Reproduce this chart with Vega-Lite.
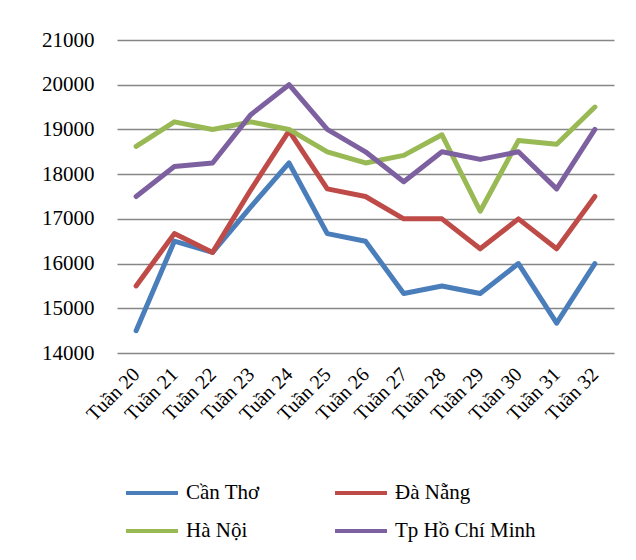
{
  "$schema": "https://vega.github.io/schema/vega-lite/v6.json",
  "width": 497,
  "height": 313,
  "autosize": {"type": "none"},
  "padding": {"left": 117, "top": 40, "right": 22, "bottom": 207},
  "background": "white",
  "config": {
    "view": {"stroke": null},
    "font": "Liberation Serif"
  },
  "data": {
    "values": [
      {"week": "Tuần 20", "city": "Cần Thơ", "price": 14500},
      {"week": "Tuần 21", "city": "Cần Thơ", "price": 16500},
      {"week": "Tuần 22", "city": "Cần Thơ", "price": 16250},
      {"week": "Tuần 23", "city": "Cần Thơ", "price": 17270},
      {"week": "Tuần 24", "city": "Cần Thơ", "price": 18250},
      {"week": "Tuần 25", "city": "Cần Thơ", "price": 16670},
      {"week": "Tuần 26", "city": "Cần Thơ", "price": 16500},
      {"week": "Tuần 27", "city": "Cần Thơ", "price": 15330},
      {"week": "Tuần 28", "city": "Cần Thơ", "price": 15500},
      {"week": "Tuần 29", "city": "Cần Thơ", "price": 15330},
      {"week": "Tuần 30", "city": "Cần Thơ", "price": 16000},
      {"week": "Tuần 31", "city": "Cần Thơ", "price": 14670},
      {"week": "Tuần 32", "city": "Cần Thơ", "price": 16000},
      {"week": "Tuần 20", "city": "Đà Nẵng", "price": 15500},
      {"week": "Tuần 21", "city": "Đà Nẵng", "price": 16670},
      {"week": "Tuần 22", "city": "Đà Nẵng", "price": 16250},
      {"week": "Tuần 23", "city": "Đà Nẵng", "price": 17650},
      {"week": "Tuần 24", "city": "Đà Nẵng", "price": 18970},
      {"week": "Tuần 25", "city": "Đà Nẵng", "price": 17670},
      {"week": "Tuần 26", "city": "Đà Nẵng", "price": 17500},
      {"week": "Tuần 27", "city": "Đà Nẵng", "price": 17000},
      {"week": "Tuần 28", "city": "Đà Nẵng", "price": 17000},
      {"week": "Tuần 29", "city": "Đà Nẵng", "price": 16330},
      {"week": "Tuần 30", "city": "Đà Nẵng", "price": 17000},
      {"week": "Tuần 31", "city": "Đà Nẵng", "price": 16330},
      {"week": "Tuần 32", "city": "Đà Nẵng", "price": 17500},
      {"week": "Tuần 20", "city": "Hà Nội", "price": 18620},
      {"week": "Tuần 21", "city": "Hà Nội", "price": 19170},
      {"week": "Tuần 22", "city": "Hà Nội", "price": 19000},
      {"week": "Tuần 23", "city": "Hà Nội", "price": 19170},
      {"week": "Tuần 24", "city": "Hà Nội", "price": 19000},
      {"week": "Tuần 25", "city": "Hà Nội", "price": 18500},
      {"week": "Tuần 26", "city": "Hà Nội", "price": 18250},
      {"week": "Tuần 27", "city": "Hà Nội", "price": 18420},
      {"week": "Tuần 28", "city": "Hà Nội", "price": 18880},
      {"week": "Tuần 29", "city": "Hà Nội", "price": 17170},
      {"week": "Tuần 30", "city": "Hà Nội", "price": 18750},
      {"week": "Tuần 31", "city": "Hà Nội", "price": 18670},
      {"week": "Tuần 32", "city": "Hà Nội", "price": 19500},
      {"week": "Tuần 20", "city": "Tp Hồ Chí Minh", "price": 17500},
      {"week": "Tuần 21", "city": "Tp Hồ Chí Minh", "price": 18170},
      {"week": "Tuần 22", "city": "Tp Hồ Chí Minh", "price": 18250},
      {"week": "Tuần 23", "city": "Tp Hồ Chí Minh", "price": 19330},
      {"week": "Tuần 24", "city": "Tp Hồ Chí Minh", "price": 20000},
      {"week": "Tuần 25", "city": "Tp Hồ Chí Minh", "price": 19000},
      {"week": "Tuần 26", "city": "Tp Hồ Chí Minh", "price": 18500},
      {"week": "Tuần 27", "city": "Tp Hồ Chí Minh", "price": 17830},
      {"week": "Tuần 28", "city": "Tp Hồ Chí Minh", "price": 18500},
      {"week": "Tuần 29", "city": "Tp Hồ Chí Minh", "price": 18330},
      {"week": "Tuần 30", "city": "Tp Hồ Chí Minh", "price": 18500},
      {"week": "Tuần 31", "city": "Tp Hồ Chí Minh", "price": 17670},
      {"week": "Tuần 32", "city": "Tp Hồ Chí Minh", "price": 19000}
    ]
  },
  "mark": {"type": "line", "strokeWidth": 5, "strokeJoin": "round", "strokeCap": "round"},
  "encoding": {
    "x": {
      "field": "week",
      "type": "ordinal",
      "scale": {"type": "point", "padding": 0.5},
      "axis": {
        "title": null,
        "labelAngle": -45,
        "labelAlign": "right",
        "labelBaseline": "middle",
        "labelFontSize": 20,
        "labelColor": "black",
        "labelFont": "Liberation Serif",
        "labelPadding": 18,
        "ticks": false,
        "tickSize": 0,
        "domain": false,
        "grid": false
      }
    },
    "y": {
      "field": "price",
      "type": "quantitative",
      "scale": {"domain": [14000, 21000], "nice": false, "zero": false},
      "axis": {
        "title": null,
        "values": [14000, 15000, 16000, 17000, 18000, 19000, 20000, 21000],
        "format": "d",
        "labelFontSize": 21,
        "labelColor": "black",
        "labelFont": "Liberation Serif",
        "labelPadding": 23,
        "ticks": false,
        "tickSize": 0,
        "domain": false,
        "grid": true,
        "gridColor": "#868686",
        "gridWidth": 1.5
      }
    },
    "color": {
      "field": "city",
      "type": "nominal",
      "scale": {
        "domain": ["Cần Thơ", "Đà Nẵng", "Hà Nội", "Tp Hồ Chí Minh"],
        "range": ["#4A7EBB", "#BE4B48", "#98B954", "#7D60A0"]
      },
      "legend": {
        "title": null,
        "orient": "none",
        "legendX": 7,
        "legendY": 425,
        "direction": "horizontal",
        "columns": 2,
        "gridAlign": "all",
        "columnPadding": 0,
        "rowPadding": -14,
        "padding": 0,
        "symbolType": "stroke",
        "symbolSize": 2700,
        "symbolStrokeWidth": 4,
        "labelOffset": 6,
        "labelFontSize": 21,
        "labelFont": "Liberation Serif",
        "labelColor": "black",
        "labelLimit": 300
      }
    }
  }
}
